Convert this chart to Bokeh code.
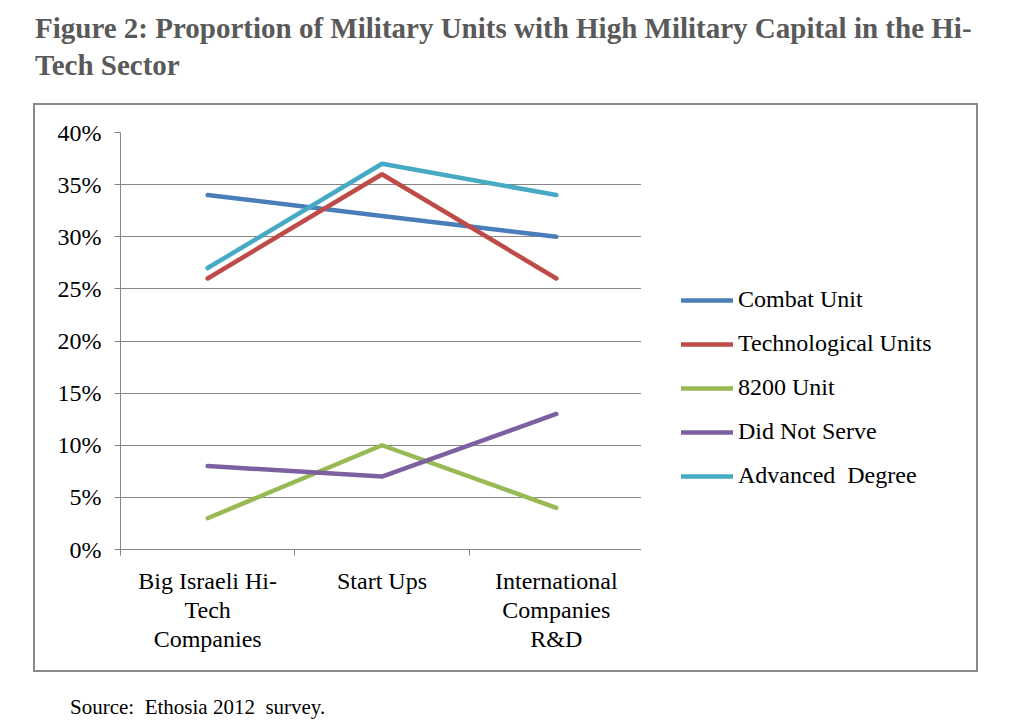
from bokeh.plotting import figure
from bokeh.models import FixedTicker, Legend, LegendItem, Range1d, Div
from bokeh.layouts import column, row
from bokeh.embed import file_html
from bokeh.resources import INLINE

# Data
categories = ["Big Israeli Hi-\nTech\nCompanies", "Start Ups",
              "International\nCompanies\nR&D"]
series_names = ["Combat Unit", "Technological Units", "8200 Unit",
                "Did Not Serve", "Advanced  Degree"]
combat_unit = [34, 32, 30]
technological_units = [26, 36, 26]
unit_8200 = [3, 10, 4]
did_not_serve = [8, 7, 13]
advanced_degree = [27, 37, 34]
y_ticks = [0, 5, 10, 15, 20, 25, 30, 35, 40]

series_values = [combat_unit, technological_units, unit_8200,
                 did_not_serve, advanced_degree]
colors = ["#4a7ebb", "#be4b48", "#98b954", "#7d60a0", "#46aac5"]

SERIF = "Liberation Serif"
GRID = "#868686"
BOX = "2px solid #8a8a8a"

x_pos = [i + 0.5 for i in range(len(categories))]

# Chart panel (left part of the framed box)
p = figure(width=608, height=569, output_backend="svg", toolbar_location=None,
           x_range=Range1d(0, len(categories)), y_range=Range1d(0, 40),
           min_border_left=85, min_border_right=0,
           min_border_top=27, min_border_bottom=125,
           styles={"border-left": BOX, "border-top": BOX,
                   "border-bottom": BOX})
p.outline_line_color = None
p.background_fill_color = "white"
p.border_fill_color = "white"

p.xgrid.visible = False
p.ygrid.grid_line_color = GRID
p.ygrid.grid_line_width = 1
p.ygrid.ticker = FixedTicker(ticks=y_ticks)

p.yaxis.ticker = FixedTicker(ticks=y_ticks)
p.yaxis.major_label_overrides = {t: f"{t}%" for t in y_ticks}
p.yaxis.axis_line_color = GRID
p.yaxis.major_tick_line_color = GRID
p.yaxis.major_tick_in = 0
p.yaxis.major_tick_out = 6
p.yaxis.minor_tick_line_color = None
p.yaxis.major_label_standoff = 13
p.yaxis.major_label_text_font = SERIF
p.yaxis.major_label_text_font_size = "24px"
p.yaxis.major_label_text_color = "black"

p.xaxis.ticker = FixedTicker(ticks=x_pos,
                             minor_ticks=list(range(len(categories) + 1)))
p.xaxis.major_label_overrides = {x: c for x, c in zip(x_pos, categories)}
p.xaxis.axis_line_color = GRID
p.xaxis.major_tick_line_color = None
p.xaxis.minor_tick_line_color = GRID
p.xaxis.minor_tick_in = 0
p.xaxis.minor_tick_out = 6
p.xaxis.major_label_standoff = 12
p.xaxis.major_label_text_font = SERIF
p.xaxis.major_label_text_font_size = "24px"
p.xaxis.major_label_text_color = "black"
p.xaxis.major_label_text_line_height = 1.13

for vals, col in zip(series_values, colors):
    p.line(x_pos, vals, line_color=col, line_width=4.5, line_cap="round")

# Legend panel (right part of the framed box)
lp = figure(width=337, height=569, output_backend="svg", toolbar_location=None,
            x_range=Range1d(0, 1), y_range=Range1d(0, 1),
            min_border=0,
            styles={"border-right": BOX, "border-top": BOX,
                    "border-bottom": BOX})
lp.axis.visible = False
lp.grid.visible = False
lp.outline_line_color = None
lp.background_fill_color = "white"
lp.border_fill_color = "white"

# Hidden copies of the series give the legend its line swatches
items = []
for name, vals, col in zip(series_names, series_values, colors):
    r = lp.line(x_pos, vals, line_color=col, line_width=4.5, line_cap="round",
                visible=False)
    items.append(LegendItem(label=name, renderers=[r]))

legend = Legend(items=items, location=(40, 60), padding=0, margin=0,
                glyph_width=52, glyph_height=24, label_height=24, spacing=17,
                label_standoff=5, label_text_font=SERIF,
                label_text_font_size="24px", label_text_color="black",
                border_line_alpha=0, background_fill_alpha=0,
                inactive_fill_alpha=0)
lp.add_layout(legend, "center")

heading = Div(
    text="Figure 2: Proportion of Military Units with High Military Capital in the Hi-<br>Tech Sector",
    width=1017, height=103, margin=0,
    styles={"font-family": SERIF, "font-weight": "bold", "font-size": "29px",
            "color": "#595959", "line-height": "37px",
            "padding-left": "35px", "padding-top": "10px",
            "box-sizing": "border-box", "white-space": "nowrap"})

source = Div(
    text="Source:&nbsp; Ethosia 2012&nbsp; survey.",
    width=1017, height=55, margin=0,
    styles={"font-family": SERIF, "font-size": "21px", "color": "black",
            "line-height": "24px", "padding-left": "70px",
            "padding-top": "23px", "box-sizing": "border-box"})

boxed = row(p, lp, spacing=0, margin=(0, 0, 0, 33))
page = column(heading, boxed, source, spacing=0, margin=0)

open("out.html", "w").write(file_html(page, INLINE))
